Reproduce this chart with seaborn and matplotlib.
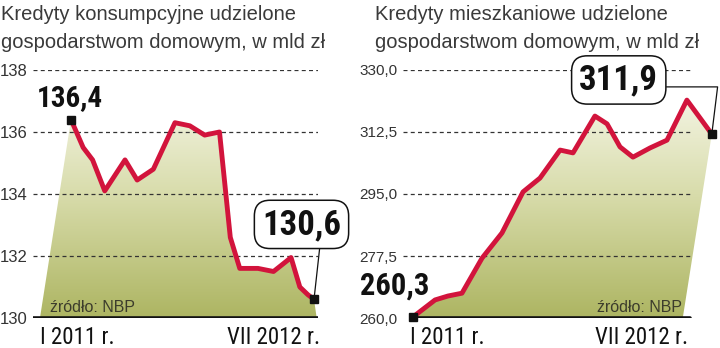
import numpy as np
import pandas as pd
import seaborn as sns
import matplotlib
matplotlib.use("Agg")
import matplotlib.pyplot as plt
from matplotlib import font_manager
from matplotlib.patches import Polygon
from matplotlib.colors import LinearSegmentedColormap

# ---------------- data ----------------
cons_pos = [0, 0.9, 1.6, 2.5, 4.0, 4.9, 6.1, 7.7, 8.8, 9.9, 11.0, 11.8, 12.5, 13.85, 15.0, 16.3, 16.95, 17.55, 18]
cons_val = [136.4, 135.5, 135.1, 134.1, 135.1, 134.45, 134.8, 136.3, 136.2, 135.9, 136.0,
            132.6, 131.6, 131.6, 131.5, 131.95, 131.0, 130.75, 130.6]
mort_pos = [0, 1.33, 2.1, 2.95, 4.16, 5.36, 6.63, 7.65, 8.86, 9.64, 10.96, 11.69, 12.47, 13.25,
            14.28, 15.3, 16.5, 17.3, 18]
mort_val = [260.3, 265.1, 266.2, 267.0, 276.9, 284.0, 295.6, 299.5, 307.4, 306.6, 317.0, 314.8,
            308.3, 305.4, 308.0, 310.2, 321.5, 316.4, 311.9]

cons_ticks = [130, 132, 134, 136, 138]
cons_ticklabels = ["130", "132", "134", "136", "138"]
mort_ticks = [260, 277.5, 295, 312.5, 330]
mort_ticklabels = ["260,0", "277,5", "295,0", "312,5", "330,0"]

x_labels = ["I 2011 r.", "VII 2012 r."]
titles = [["Kredyty konsumpcyjne udzielone", "gospodarstwom domowym, w mld zł"],
          ["Kredyty mieszkaniowe udzielone", "gospodarstwom domowym, w mld zł"]]
cons_labels = ["136,4", "130,6"]
mort_labels = ["260,3", "311,9"]
source = "źródło: NBP"

# ---------------- style ----------------
sns.set_theme(style="white")


def pick(*names):
    for n in names:
        try:
            font_manager.findfont(font_manager.FontProperties(family=n), fallback_to_default=False)
            return n
        except Exception:
            continue
    return "DejaVu Sans"


NARROW = pick("Liberation Sans Narrow", "DejaVu Sans Condensed", "Roboto Condensed")
REG = pick("Liberation Sans", "Roboto", "DejaVu Sans")
plt.rcParams["font.family"] = [REG, "DejaVu Sans"]

RED = "#d2143c"
GRID = "#333333"
TXT = "#333333"

W, H = 720, 348
fig = plt.figure(figsize=(7.2, 3.48), dpi=100)
fig.patch.set_facecolor("white")


def fx(px):
    return px / W


def fy(py):
    return 1 - py / H


grad_cmap = LinearSegmentedColormap.from_list("g", ["#adb562", "#d8dcab", "#fbfbf2"])


def panel(rect_px, xlim, ylim, pos, val, ticks, ticklabels, grid_x, base_x, corners, tick_fs):
    x0, x1 = rect_px
    ax = fig.add_axes([fx(x0), fy(318), fx(x1 - x0), (318 - 70) / H])
    ax.set_xlim(*xlim)
    ax.set_ylim(*ylim)
    for s in ax.spines.values():
        s.set_visible(False)
    ax.set_facecolor("none")
    # gradient fill under the line
    poly_pts = [(corners[0], ylim[0])] + list(zip(pos, val)) + [(corners[1], ylim[0])]
    poly = Polygon(poly_pts, closed=True, facecolor="none", edgecolor="none")
    ax.add_patch(poly)
    grad = np.linspace(0, 1, 256).reshape(-1, 1)
    im = ax.imshow(grad, extent=[xlim[0], xlim[1], ylim[0], ylim[1]], origin="lower",
                   aspect="auto", cmap=grad_cmap, zorder=0.5)
    im.set_clip_path(poly)
    # grid lines
    for t in ticks[1:]:
        ax.axhline(t, xmin=grid_x[0], xmax=grid_x[1], color=GRID, lw=0.9,
                   dashes=(3.2, 2.6), zorder=1)
    ax.axhline(ticks[0], xmin=base_x[0], xmax=base_x[1], color="#111111", lw=2.6, zorder=2)
    ax.set_yticks(ticks)
    ax.set_yticklabels(ticklabels, fontsize=tick_fs, color=TXT, family=REG)
    ax.tick_params(axis="y", length=0, pad=4)
    ax.set_xticks([])
    df = pd.DataFrame({"pos": pos, "val": val})
    sns.lineplot(data=df, x="pos", y="val", ax=ax, color=RED, linewidth=3.5,
                 zorder=3, solid_joinstyle="round", solid_capstyle="butt")
    ax.set_xlabel("")
    ax.set_ylabel("")
    ax.plot([pos[0], pos[-1]], [val[0], val[-1]], ls="none", marker="s", ms=5.8,
            color="#111111", zorder=5, clip_on=False)
    return ax


# left panel
axL = panel((33, 318), (-2.815, 18.296), (130, 138), cons_pos, cons_val,
            cons_ticks, cons_ticklabels, (0, 1), (0, 1), (-2.3, 18.2), 12)
# right panel
axR = panel((403, 720), (-0.602, 18.494), (260, 330), mort_pos, mort_val,
            mort_ticks, mort_ticklabels, (0, 0.905), (0.047, 0.905), (0, 16.25), 11)

# value labels
axL.annotate(cons_labels[0], xy=(cons_pos[0], cons_val[0]), xytext=(-0.7, 15.8),
             textcoords="offset points", ha="center", va="center", fontsize=21,
             family=NARROW, weight="bold", color="#111111", zorder=6)
axL.annotate(cons_labels[1], xy=(cons_pos[-1], cons_val[-1]), xytext=(-9, 54),
             textcoords="offset points", ha="center", va="center", fontsize=25,
             family=NARROW, weight="bold", color="#111111", zorder=6,
             bbox=dict(boxstyle="round,pad=0.22,rounding_size=0.45", fc="white", ec="#111111", lw=1.1),
             arrowprops=dict(arrowstyle="-", color="#111111", lw=0.9, shrinkA=0, shrinkB=3,
                             relpos=(0.74, 0)), annotation_clip=False)
axR.annotate(mort_labels[0], xy=(mort_pos[0], mort_val[0]), xytext=(-13, 22.5),
             textcoords="offset points", ha="center", va="center", fontsize=22,
             family=NARROW, weight="bold", color="#111111", zorder=6, annotation_clip=False)
axR.annotate(mort_labels[1], xy=(mort_pos[-1], mort_val[-1]), xytext=(-67, 39),
             textcoords="offset points", ha="center", va="center", fontsize=25,
             family=NARROW, weight="bold", color="#111111", zorder=6,
             bbox=dict(boxstyle="round,pad=0.22,rounding_size=0.45", fc="white", ec="#111111", lw=1.1),
             arrowprops=dict(arrowstyle="-", color="#111111", lw=0.9, shrinkA=0, shrinkB=3,
                             relpos=(1, 0.29),
                             connectionstyle="angle,angleA=0,angleB=83,rad=0"),
             annotation_clip=False)

# titles
for (x_px, lines) in zip((1, 375), titles):
    fig.text(fx(x_px), fy(20), lines[0], fontsize=14.5, color="#3a3a3a", va="baseline", family=REG)
    fig.text(fx(x_px), fy(48), lines[1], fontsize=14.5, color="#3a3a3a", va="baseline", family=REG)

# x labels
fig.text(fx(40), fy(344), x_labels[0], fontsize=16.5, family=NARROW, color="#111111", ha="left", va="baseline")
fig.text(fx(320), fy(344), x_labels[1], fontsize=16.5, family=NARROW, color="#111111", ha="right", va="baseline")
fig.text(fx(410), fy(344), x_labels[0], fontsize=16.5, family=NARROW, color="#111111", ha="left", va="baseline")
fig.text(fx(688), fy(344), x_labels[1], fontsize=16.5, family=NARROW, color="#111111", ha="right", va="baseline")

# source
fig.text(fx(50), fy(312), source, fontsize=11.5, color="#3c3c2c", va="baseline", family=REG, zorder=7)
fig.text(fx(597), fy(312), source, fontsize=11.5, color="#3c3c2c", va="baseline", family=REG, zorder=7)

fig.savefig("out.png", dpi=100, facecolor="white")
print(NARROW, REG)
